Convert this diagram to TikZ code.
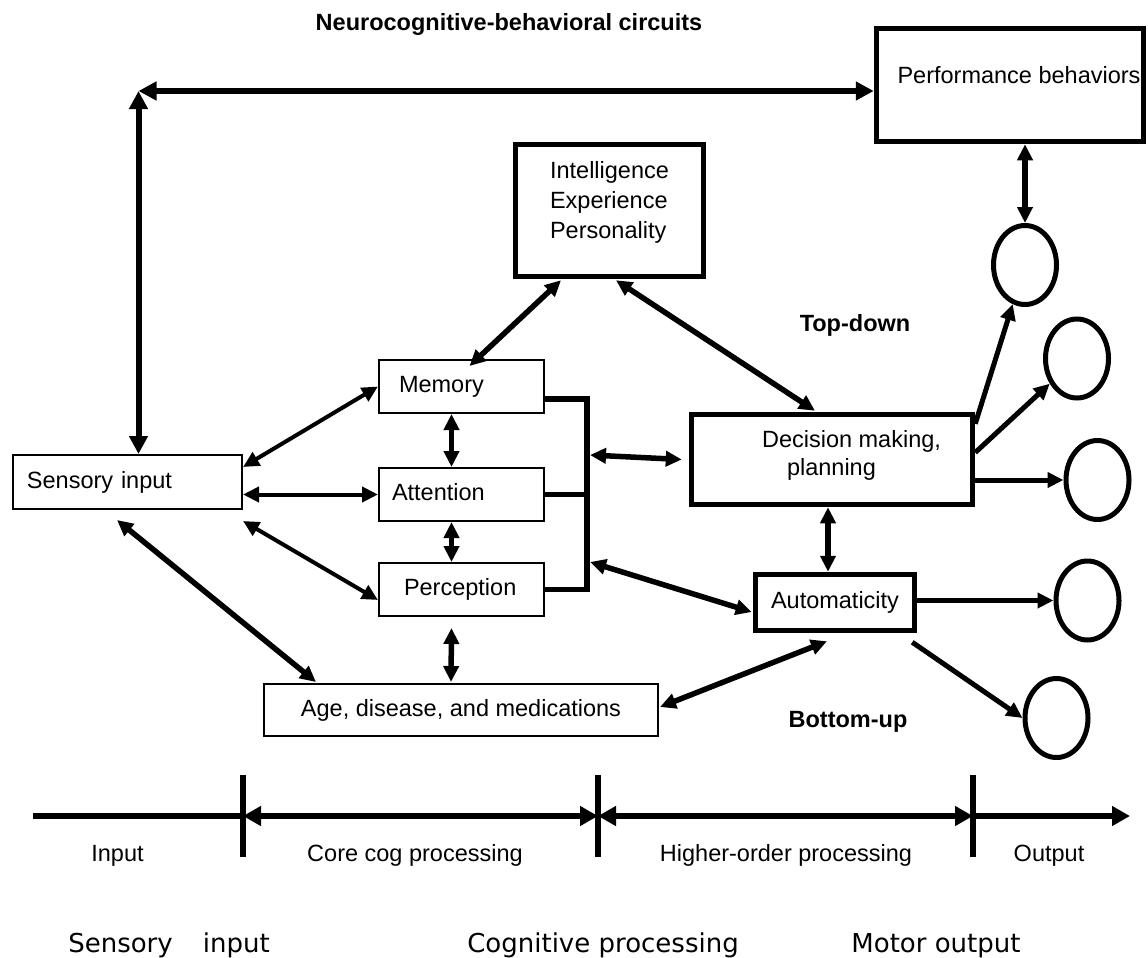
\documentclass[tikz,border=0pt]{standalone}
\usepackage{fontspec}
\setmainfont{Liberation Sans}
\newfontfamily\dejavu{DejaVu Sans}
\usetikzlibrary{arrows.meta,calc,shapes.geometric}

\tikzset{
  txt/.style={font=\fontsize{23.5}{28}\selectfont},
  heading/.style={font=\fontsize{23.5}{28}\selectfont\bfseries},
  caption/.style={font=\dejavu\fontsize{26}{30}\selectfont},
  thinbox/.style={txt, draw, line width=2pt, text height=17pt, text depth=5pt, align=left},
  thickbox/.style={txt, draw, line width=5.5pt, text height=17pt, text depth=5pt, inner sep=0pt},
  oval/.style={ellipse, draw, line width=5pt, minimum width=63pt, minimum height=79pt, inner sep=0pt},
  link/.style={line width=4pt, >={Triangle[length=16pt,width=15pt]}, <->},
  heavy/.style={line width=5.5pt, >={Triangle[length=16pt,width=15pt]}, <->},
  push/.style={line width=5pt, >={Triangle[length=16pt,width=15pt]}, ->},
  loopline/.style={line width=6pt, >={Triangle[length=18pt,width=18pt]}, <->},
  bracket/.style={line width=5.5pt, line join=miter},
  axisline/.style={line width=6.5pt, >={Triangle[length=18pt,width=19pt]}},
  tickmark/.style={line width=6pt}
}

\begin{document}
\begin{tikzpicture}[x=1pt,y=-1pt]
\fill[white] (0,0) rectangle (1148,958);
\useasboundingbox (0,0) rectangle (1148,958);

% title
\node[heading, anchor=base] (title) at (509,30.5) {Neurocognitive-behavioral circuits};

% thick-bordered boxes
\node[thickbox, minimum width=267pt, minimum height=113pt, text depth=20pt] (perf) at (1010,85)
  {\hspace*{18pt}Performance behaviors};
\node[thickbox, minimum width=188pt, minimum height=132pt, font=\fontsize{23.5}{30}\selectfont,
      text height=51pt, text depth=55pt] (intel) at (609.5,210.5)
  {\begin{tabular}{@{}l@{}}Intelligence\\Experience\\Personality\end{tabular}};
\node[thickbox, minimum width=281pt, minimum height=90pt, text height=34pt, text depth=28pt] (dec) at (832,459.5)
  {\hspace*{39pt}\begin{tabular}{@{}l@{}}Decision making,\\\hspace*{25pt}planning\end{tabular}};
\node[thickbox, minimum width=159pt, minimum height=56pt] (auto) at (835,602.5) {Automaticity};

% thin-bordered boxes
\node[thinbox, inner xsep=14pt, text width=201pt, minimum height=54pt] (sens) at (127.5,482) {Sensory input};
\node[thinbox, inner xsep=20pt, text width=125pt, minimum height=53pt] (mem) at (461.5,386.5) {Memory};
\node[thinbox, inner xsep=13pt, text width=139pt, minimum height=53pt] (att) at (461.5,494.5) {Attention};
\node[thinbox, inner xsep=25pt, text width=115pt, minimum height=53pt] (perc) at (461.5,589.5) {Perception};
\node[thinbox, align=center, minimum width=394pt, minimum height=52pt] (age) at (461,710) {Age, disease, and medications};

% output ovals
\node[oval] (c1) at (1025,265) {};
\node[oval] (c2) at (1077,358.5) {};
\node[oval] (c3) at (1097.5,480) {};
\node[oval] (c4) at (1087.5,600.5) {};
\node[oval] (c5) at (1056.5,718) {};

% direction labels
\node[heading, anchor=base] (td) at (855,331) {Top-down};
\node[heading, anchor=base] (bu) at (848,727) {Bottom-up};

% feedback loop from performance back to sensory input
\coordinate (corner) at (138.5,91);
\draw[loopline] (corner) -- (corner -| perf.west);
\draw[loopline] (corner) -- (corner |- sens.north);
\draw[heavy] (c1.north |- perf.south) -- (c1.north);

% modifiers
\draw[heavy] ($(intel.south)+(-48.5,1)$) -- ($(mem.north)+(8,7)$);
\draw[heavy] ($(intel.south)+(6.5,1)$) -- ($(dec.north)+(-17,-1)$);

% sensory input to core processes
\draw[link] ($(sens.north east)+(0,13)$) -- (mem.west);
\draw[link] (sens.east |- att.west) -- (att.west);
\draw[link] ($(sens.south east)+(0,11)$) -- ($(perc.west)+(0,10.5)$);
\draw[heavy] ($(sens.south)+(-10.5,10)$) -- ($(age.north)+(-145,-1)$);

% links within the core column
\draw[heavy] ($(mem.south)+(-10,0)$) -- ($(att.north)+(-10,0)$);
\draw[heavy] ($(att.south)+(-10,0)$) -- ($(perc.north)+(-10,0)$);
\draw[heavy] ($(perc.south)+(-10,11)$) -- ($(age.north)+(-10,-1)$);

% bracket gathering memory, attention and perception
\coordinate (brtop) at (587,399);
\draw[bracket] (mem.east |- brtop) -- (brtop) -- (brtop |- perc.east) -- (perc.east);
\draw[bracket] (att.east) -- (att.east -| brtop);
\coordinate (bj1) at ($(brtop)+(3,56)$);
\coordinate (bj2) at ($(brtop)+(3,163)$);
\draw[heavy] (bj1) -- ($(dec.west)+(-7,0)$);
\draw[heavy] (bj2) -- ($(auto.west)+(-1,9.5)$);

% higher-order processing
\draw[heavy] ($(dec.south)+(-4,0)$) -- ($(auto.north)+(-7,0)$);
\draw[heavy] ($(age.east)+(1,-3)$) -- ($(auto.south)+(-8,8)$);

% motor outputs
\draw[push] ($(dec.north east)+(0,12)$) -- (c1);
\draw[push] ($(dec.east)+(0,-7)$) -- (c2);
\draw[push] (dec.east |- c3.west) -- (c3.west);
\draw[push] (auto.east |- c4.west) -- (c4.west);
\draw[push] ($(auto.south east)+(-5,9)$) -- (c5.west);

% processing timeline
\coordinate (t0) at (33,816);
\coordinate (t1) at (243,816);
\coordinate (t2) at (598,816);
\coordinate (t3) at (973,816);
\coordinate (t4) at (1130,816);
\draw[axisline] (t0) -- (t1);
\draw[axisline, <->] (t1) -- (t2);
\draw[axisline, <->] (t2) -- (t3);
\draw[axisline, ->] (t3) -- (t4);
\foreach \t in {t1,t2,t3}
  \draw[tickmark] ($(\t)+(0,-41)$) -- ($(\t)+(0,41)$);

\node[txt, anchor=base] (lin) at (117.5,861) {Input};
\node[txt, anchor=base] (lcore) at (415,861) {Core cog processing};
\node[txt, anchor=base] (lhigh) at (786,861) {Higher-order processing};
\node[txt, anchor=base] (lout) at (1049,861) {Output};

% stage captions
\node[caption, anchor=base] (capin) at (169,952) {Sensory\hspace{30pt}input};
\node[caption, anchor=base] (capcog) at (603,952) {Cognitive processing};
\node[caption, anchor=base] (capmot) at (936,952) {Motor output};
\end{tikzpicture}
\end{document}
